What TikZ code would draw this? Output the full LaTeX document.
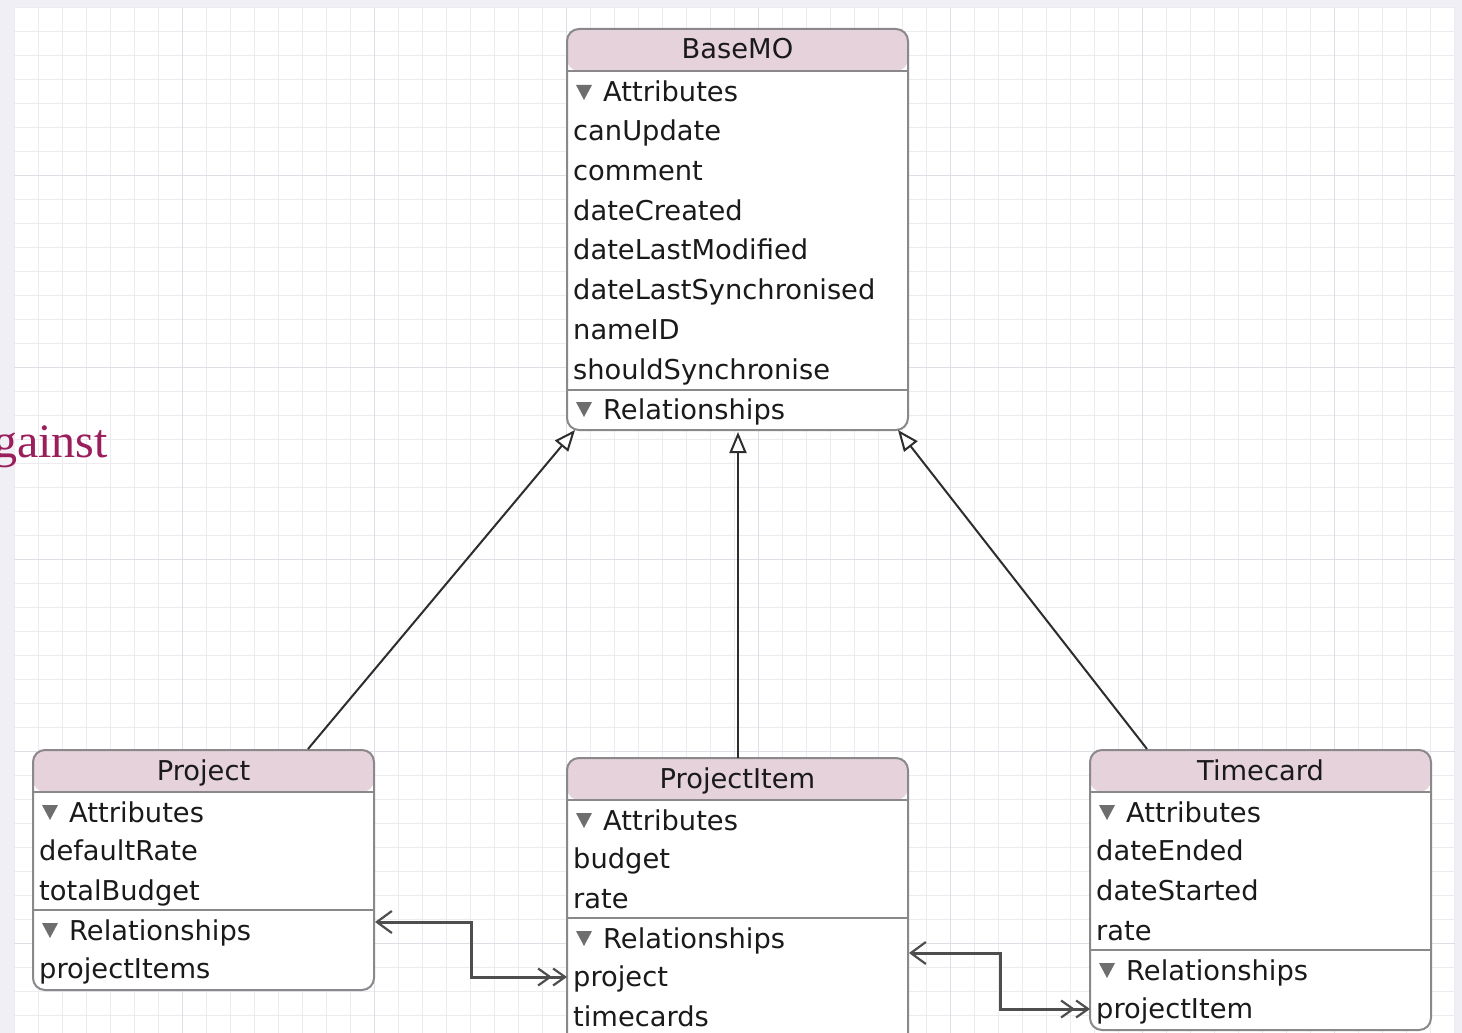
\documentclass[tikz,border=0pt]{standalone}
\usepackage{fontspec}
\usetikzlibrary{arrows.meta,calc}
\newfontfamily\uifont{DejaVu Sans}
\newfontfamily\slidefont{Liberation Serif}
\definecolor{lav}{RGB}{240,239,246}
\definecolor{gridminor}{RGB}{236,236,240}
\definecolor{gridmajor}{RGB}{222,222,228}
\definecolor{hdr}{RGB}{229,210,219}
\definecolor{boxline}{RGB}{138,136,138}
\definecolor{txt}{RGB}{26,26,26}
\definecolor{togc}{RGB}{110,110,110}
\definecolor{slide}{RGB}{155,30,92}
\definecolor{inhc}{RGB}{45,45,45}
\definecolor{relc}{RGB}{78,78,78}
\tikzset{
  entity/.style={draw=boxline, line width=2pt, fill=white, rounded corners=12pt,
    inner sep=0pt, outer sep=0pt, anchor=north west,
    path picture={\fill[hdr] (path picture bounding box.north west) rectangle ([yshift=-42pt]path picture bounding box.north east);}},
  divline/.style={draw=boxline, line width=2pt},
  row/.style={font=\uifont\fontsize{27.3}{30}\selectfont, text=txt, inner sep=0pt, anchor=base west},
  ttl/.style={row, anchor=base},
  togfill/.style={fill=togc},
  inh/.style={draw=inhc, line width=2pt, -{Triangle[length=21pt,width=17pt,fill=white]}},
  rel/.style={draw=relc, line width=3pt,
    {Straight Barb[length=15pt,width=22pt,line width=2.2pt]}-{Straight Barb[length=12pt,width=17pt,line width=2.2pt]Straight Barb[length=12pt,width=17pt,line width=2.2pt]}},
}
\newcommand{\togtri}[2]{\fill[togfill] (#1,#2) -- ++(16,0) -- ++(-8,15) -- cycle;}
\begin{document}
\begin{tikzpicture}[x=1pt,y=-1pt]
\useasboundingbox (0,0) rectangle (1462,1033);
\begin{scope}
\clip (0,0) rectangle (1462,1033);
% background and grid
\fill[lav] (0,0) rectangle (1462,1033);
\fill[white] (14,8) rectangle (1455,1033);
\foreach \k in {0,...,60} \draw[gridminor, line width=1.2pt] ({14.3+24*\k},8) -- ({14.3+24*\k},1033);
\foreach \k in {0,...,42} \draw[gridminor, line width=1.2pt] (14,{7.7+24*\k}) -- (1455,{7.7+24*\k});
\foreach \k in {7,15,...,55} \draw[gridmajor, line width=1.2pt] ({14.3+24*\k},8) -- ({14.3+24*\k},1033);
\foreach \k in {7,15,23,31,39} \draw[gridmajor, line width=1.2pt] (14,{7.7+24*\k}) -- (1455,{7.7+24*\k});
% slide text fragment
\node[font=\slidefont\fontsize{48}{50}\selectfont, text=slide, anchor=base east, inner sep=0pt] (slidetext) at (108,457) {gainst};

% BaseMO
\node[entity, minimum width=341pt, minimum height=401pt] (base) at (567,29) {};
\draw[divline] (base.west |- 0,71) -- (base.east |- 0,71);
\draw[divline] (base.west |- 0,390) -- (base.east |- 0,390);
\node[ttl] (bt) at (737.5,59) {BaseMO};
\togtri{576}{85}
\node[row] (ba) at (603,102) {Attributes};
\node[row] (b1) at (573,140) {canUpdate};
\node[row] (b2) at (573,180) {comment};
\node[row] (b3) at (573,220) {dateCreated};
\node[row] (b4) at (573,259) {dateLastModified};
\node[row] (b5) at (573,299) {dateLastSynchronised};
\node[row] (b6) at (573,339) {nameID};
\node[row] (b7) at (573,379) {shouldSynchronise};
\togtri{576}{402}
\node[row] (br) at (603,419) {Relationships};

% Project
\node[entity, minimum width=341pt, minimum height=240pt] (project) at (33,750) {};
\draw[divline] (project.west |- 0,792) -- (project.east |- 0,792);
\draw[divline] (project.west |- 0,910) -- (project.east |- 0,910);
\node[ttl] (pt) at (203.5,780) {Project};
\togtri{42}{805}
\node[row] (pa) at (69,822) {Attributes};
\node[row] (p1) at (39,860) {defaultRate};
\node[row] (p2) at (39,900) {totalBudget};
\togtri{42}{923}
\node[row] (pr) at (69,940) {Relationships};
\node[row] (p3) at (39,978) {projectItems};

% ProjectItem
\node[entity, minimum width=341pt, minimum height=290pt] (pitem) at (567,758) {};
\draw[divline] (pitem.west |- 0,800) -- (pitem.east |- 0,800);
\draw[divline] (pitem.west |- 0,918) -- (pitem.east |- 0,918);
\node[ttl] (it) at (737.5,788) {ProjectItem};
\togtri{576}{813}
\node[row] (ia) at (603,830) {Attributes};
\node[row] (i1) at (573,868) {budget};
\node[row] (i2) at (573,908) {rate};
\togtri{576}{931}
\node[row] (ir) at (603,948) {Relationships};
\node[row] (i3) at (573,986) {project};
\node[row] (i4) at (573,1026) {timecards};

% Timecard
\node[entity, minimum width=341pt, minimum height=280pt] (tcard) at (1090,750) {};
\draw[divline] (tcard.west |- 0,792) -- (tcard.east |- 0,792);
\draw[divline] (tcard.west |- 0,950) -- (tcard.east |- 0,950);
\node[ttl] (tt) at (1260.5,780) {Timecard};
\togtri{1099}{805}
\node[row] (ta) at (1126,822) {Attributes};
\node[row] (t1) at (1096,860) {dateEnded};
\node[row] (t2) at (1096,900) {dateStarted};
\node[row] (t3) at (1096,940) {rate};
\togtri{1099}{963}
\node[row] (tr) at (1126,980) {Relationships};
\node[row] (t4) at (1096,1018) {projectItem};

% inheritance connectors
\draw[inh] ($(project.north west)+(275,-1)$) -- ($(base.south west)+(8,0)$);
\draw[inh] ($(pitem.north)+(0.5,0)$) -- ($(base.south)+(0.5,2)$);
\draw[inh] ($(tcard.north west)+(57,-1)$) -- ($(base.south east)+(-10,0)$);

% relationship connectors
\coordinate (k1) at (471,922);
\coordinate (k2) at (471,977);
\coordinate (k3) at (1000,953);
\coordinate (k4) at (1000,1009);
\draw[rel] ($(k1 -| project.east)+(1,0)$) -- (k1) -- (k2) -- (k2 -| pitem.west);
\draw[rel] ($(k3 -| pitem.east)+(1,0)$) -- (k3) -- (k4) -- (k4 -| tcard.west);
\end{scope}
\end{tikzpicture}
\end{document}
